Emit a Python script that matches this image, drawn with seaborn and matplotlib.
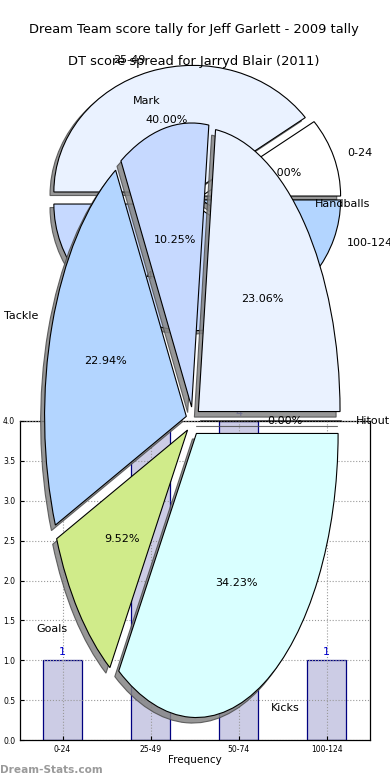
"""
Dream Team tally: score spread pie, stats pie and frequency bars on one canvas
"""
import numpy as np
import matplotlib
matplotlib.use('Agg')
import matplotlib.pyplot as plt
import seaborn as sns

# score spread (bars + first pie)
score_bins = ['0-24', '25-49', '50-74', '100-124']
score_counts = [1, 4, 4, 1]
spread_colors = ['white', '#EAF2FF', '#C6D9FF', '#B3D5FF']

# stat breakdown (second pie)
stat_labels = ['Handballs', 'Mark', 'Tackle', 'Goals', 'Kicks', 'Hitout']
stat_share = [23.06, 10.25, 22.94, 9.52, 34.23, 0.0]
stat_colors = ['#EAF2FF', '#C6D9FF', '#B3D5FF', '#D0EB8A', '#D9FFFF', 'white']

title_tally = 'Dream Team score tally for Jeff Garlett - 2009 tally'
title_spread = 'DT score spread for Jarryd Blair (2011)'

W, H = 390, 780
fig = plt.figure(figsize=(W / 100, H / 100), dpi=100)

shade = {'facecolor': '0.52', 'edgecolor': '0.3', 'alpha': 0.85}
wedge_style = {'linewidth': 0.8, 'edgecolor': 'black'}

# --- pie 1: score spread (stretched, no equal aspect)
ax_p1 = fig.add_axes([0, 0, 1, 1])
ax_p1.pie(score_counts, labels=score_bins, colors=spread_colors,
          explode=[0.05] * len(score_counts), autopct='%.2f%%',
          shadow={'ox': -0.02, 'oy': -0.02, **shade},
          wedgeprops=wedge_style, textprops={'fontsize': 8})
ax_p1.set_aspect('auto')
ax_p1.set_xlim(-1.403, 1.403)
ax_p1.set_ylim(-4.597, 1.564)
ax_p1.axis('off')

# --- bars: frequency of scores
ax_bar = fig.add_axes([20 / W, 40 / H, 350 / W, 319 / H])
sns.barplot(x=score_bins, y=score_counts, ax=ax_bar, width=0.45, saturation=1)
for p in ax_bar.patches:
    p.set_facecolor((0, 0, 0.5, 0.2))
    p.set_edgecolor('navy')
    p.set_linewidth(0.9)
for i, c in enumerate(score_counts):
    ax_bar.text(i, c + 0.04, str(c), ha='center', va='bottom',
                color='mediumblue', fontsize=8)
ax_bar.set_xlim(-0.483, 3.494)
ax_bar.set_ylim(0, 4)
ax_bar.set_yticks(np.arange(0, 4.01, 0.5))
ax_bar.grid(True, linestyle=':', color='0.6', linewidth=0.8)
ax_bar.set_axisbelow(False)
ax_bar.tick_params(labelsize=5.5, direction='in', length=3)
ax_bar.set_xlabel('Frequency', fontsize=7.5, labelpad=1)
ax_bar.set_ylabel('')
for s in ax_bar.spines.values():
    s.set_linewidth(0.9)

# --- pie 2: stat breakdown, drawn over everything
ax_p2 = fig.add_axes([0, 0, 1, 1])
ax_p2.pie(stat_share, labels=stat_labels, colors=stat_colors,
          explode=[0.05] * len(stat_share), autopct='%.2f%%',
          shadow={'ox': -0.02, 'oy': -0.014, **shade},
          wedgeprops=wedge_style, textprops={'fontsize': 8})
ax_p2.set_aspect('auto')
ax_p2.set_xlim(-1.362, 1.390)
ax_p2.set_ylim(-1.264, 1.482)
ax_p2.axis('off')

fig.text(0.497, 1 - 30 / H, title_tally, ha='center', va='center', fontsize=9.4)
fig.text(0.497, 1 - 61 / H, title_spread, ha='center', va='center', fontsize=9.4)
fig.text(0.0, 10 / H, 'Dream-Stats.com', ha='left', va='center',
         fontsize=7.6, fontweight='bold', color='#9a9a9a')

fig.savefig('out.png', dpi=100)
